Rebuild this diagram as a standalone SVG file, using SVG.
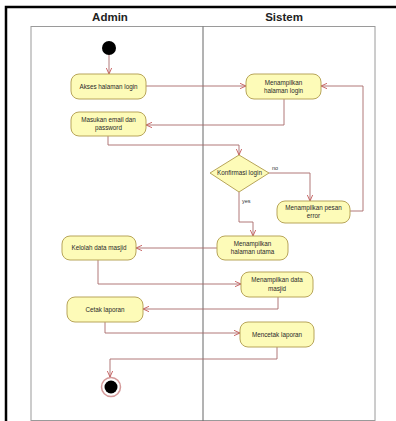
<svg xmlns="http://www.w3.org/2000/svg" width="396" height="421" viewBox="0 0 396 421">
<defs>
<style>
.lane{fill:none;stroke:#9a9a9a;stroke-width:1}
.hdr{font-family:"Liberation Sans",Arial,sans-serif;font-size:11.5px;font-weight:bold;fill:#222;text-anchor:middle}
.act rect{fill:#fdfbb8;stroke:#b8a55a;stroke-width:1}
.act text,.dec text{font-family:"Liberation Sans",Arial,sans-serif;font-size:6.3px;fill:#2a2a2a;text-anchor:middle}
.dec polygon{fill:#fdfbb8;stroke:#b8a55a;stroke-width:1}
.edge{fill:none;stroke:#a86a6a;stroke-width:0.9;marker-end:url(#arr)}
.lbl{font-family:"Liberation Sans",Arial,sans-serif;font-size:5.5px;fill:#333}
</style>
<marker id="arr" viewBox="0 0 10 10" refX="9" refY="5" markerWidth="7" markerHeight="7" orient="auto-start-reverse" markerUnits="userSpaceOnUse">
<path d="M0,1 L9,5 L0,9" fill="none" stroke="#c05050" stroke-width="1.2"/>
</marker>
</defs>
<rect width="396" height="421" fill="#ffffff"/>
<path d="M6,421 V7 H396" fill="none" stroke="#000" stroke-width="2.5"/>
<g id="lanes">
<rect class="lane" x="31" y="26.5" width="344" height="394"/>
<line x1="203" y1="26.5" x2="203" y2="421" stroke="#666" stroke-width="1"/>
<text class="hdr" x="110" y="21">Admin</text>
<text class="hdr" x="284" y="21">Sistem</text>
</g>
<g id="edges">
<path class="edge" d="M109,55 V74"/>
<path class="edge" d="M146,86 H246"/>
<path class="edge" d="M284,99 V125 H146"/>
<path class="edge" d="M108,136 V145 H239 V155"/>
<path class="edge" d="M269,173 H310 V201"/>
<path class="edge" d="M350,211 H363 V86 H321"/>
<path class="edge" d="M239,192 V222 H253 V236"/>
<path class="edge" d="M217,248 H136"/>
<path class="edge" d="M98,260 V284 H241"/>
<path class="edge" d="M278,297 V309 H143"/>
<path class="edge" d="M105,322 V333 H240"/>
<path class="edge" d="M277,347 V359 H110 V377"/>
<text class="lbl" x="272" y="170">no</text>
<text class="lbl" x="242" y="203">yes</text>
</g>
<g id="start"><circle cx="109" cy="48" r="7" fill="#000"/></g>
<g id="akses" class="act"><rect x="71" y="74" width="75" height="25" rx="8"/><text x="108.5" y="88.5">Akses halaman login</text></g>
<g id="masukan" class="act"><rect x="71" y="112" width="75" height="24" rx="8"/><text x="108.5" y="121.5">Masukan email dan</text><text x="108.5" y="130">password</text></g>
<g id="tampil-login" class="act"><rect x="246" y="74" width="75" height="25" rx="8"/><text x="283.5" y="84.5">Menampilkan</text><text x="283.5" y="93">halaman login</text></g>
<g id="konfirmasi" class="dec"><polygon points="239,155 269,173 239,192 210,173"/><text x="239.5" y="175">Konfirmasi login</text></g>
<g id="error" class="act"><rect x="277" y="201" width="73" height="22" rx="8"/><text x="313.5" y="209.5">Menampilkan pesan</text><text x="313.5" y="218">error</text></g>
<g id="utama" class="act"><rect x="217" y="236" width="71" height="24" rx="8"/><text x="252.5" y="245.5">Menampilkan</text><text x="252.5" y="254">halaman utama</text></g>
<g id="kelolah" class="act"><rect x="62" y="236" width="74" height="24" rx="8"/><text x="99" y="250">Kelolah data masjid</text></g>
<g id="tampil-data" class="act"><rect x="241" y="272" width="72" height="25" rx="8"/><text x="277" y="282">Menampilkan data</text><text x="277" y="290.5">masjid</text></g>
<g id="cetak" class="act"><rect x="67" y="297" width="76" height="25" rx="8"/><text x="105" y="311.5">Cetak laporan</text></g>
<g id="mencetak" class="act"><rect x="240" y="322" width="74" height="25" rx="8"/><text x="277" y="336.5">Mencetak laporan</text></g>
<g id="end"><circle cx="111" cy="387" r="9.5" fill="#fff" stroke="#d49a9a" stroke-width="1.5"/><circle cx="111" cy="387" r="6.5" fill="#000"/></g>
</svg>
